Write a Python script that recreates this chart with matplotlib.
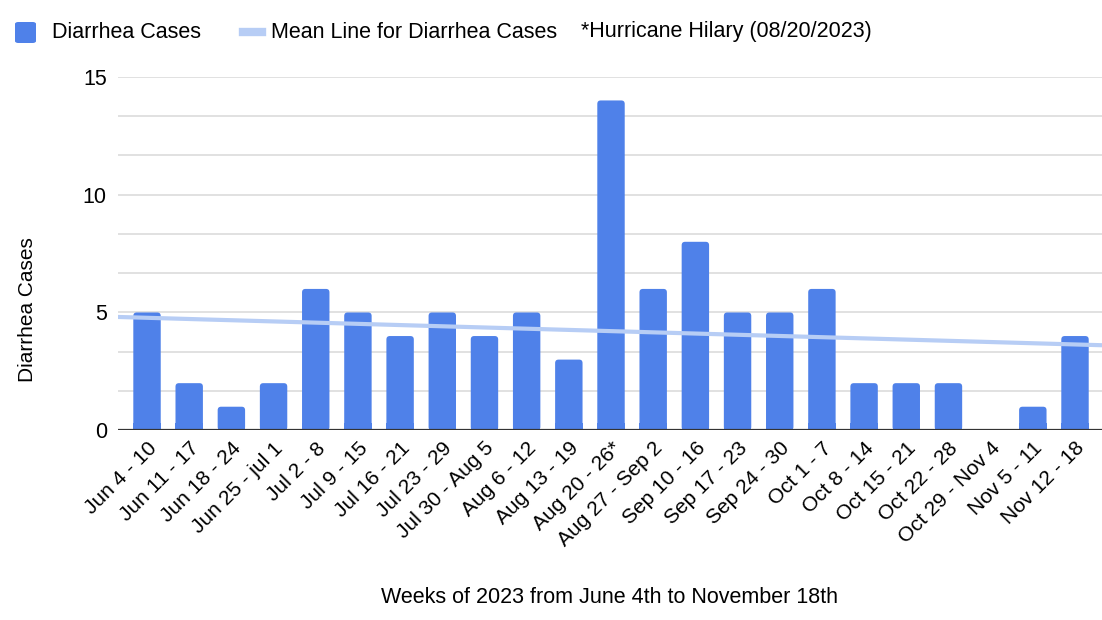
import numpy as np
import matplotlib.pyplot as plt
from matplotlib.patches import FancyBboxPatch
from matplotlib.lines import Line2D

plt.rcParams['font.family'] = ['Liberation Sans', 'DejaVu Sans']

# data
weeks = ["Jun 4 - 10", "Jun 11 - 17", "Jun 18 - 24", "Jun 25 - jul 1", "Jul 2 - 8",
         "Jul 9 - 15", "Jul 16 - 21", "Jul 23 - 29", "Jul 30 - Aug 5", "Aug 6 - 12",
         "Aug 13 - 19", "Aug 20 - 26*", "Aug 27 - Sep 2", "Sep 10 - 16", "Sep 17 - 23",
         "Sep 24 - 30", "Oct 1 - 7", "Oct 8 - 14", "Oct 15 - 21", "Oct 22 - 28",
         "Oct 29 - Nov 4", "Nov 5 - 11", "Nov 12 - 18"]
cases = [5, 2, 1, 2, 6, 5, 4, 5, 4, 5, 3, 14, 6, 8, 5, 5, 6, 2, 2, 2, 0, 1, 4]
# mean (trend) line, value at the left and right edge of the plot
mean_line = [4.81, 3.61]
y_ticks = [0, 5, 10, 15]

bar_color = "#4f81e9"
line_color = "#b7cdf5"

fig = plt.figure(figsize=(11.02, 6.2), dpi=100)
ax = fig.add_axes([0.107, 0.306, 0.893, 0.570])

x = np.arange(len(cases))
xlim = (-0.69, len(cases) - 1 + 0.64)
ax.set_xlim(*xlim)
ax.set_ylim(0, 15)

# bars with slightly rounded corners
bw = 0.65
for xi, v in zip(x, cases):
    if v <= 0:
        continue
    p = FancyBboxPatch((xi - bw / 2, 0), bw, v,
                       boxstyle="round,pad=0,rounding_size=0.08",
                       mutation_aspect=1 / 0.55,
                       facecolor=bar_color, edgecolor="none", zorder=3)
    ax.add_patch(p)
    # square off the bottom
    ax.bar(xi, min(v, 0.3), width=bw, color=bar_color, zorder=3)

ax.plot(xlim, mean_line, color=line_color, lw=3, zorder=4, solid_capstyle="butt")

# gridlines
ax.set_yticks(y_ticks)
ax.set_yticks(np.arange(0, 15.01, 5 / 3), minor=True)
ax.grid(axis="y", which="both", color="#dcdcdc", lw=1.2, zorder=0)
ax.axhline(0, color="#333333", lw=1.6, zorder=5)
ax.tick_params(axis="y", which="both", length=0, labelsize=15.5, pad=8)
ax.tick_params(axis="x", length=0, labelsize=15, pad=6)

ax.set_xticks(x)
ax.set_xticklabels(weeks, rotation=45, ha="right", rotation_mode="anchor")

for s in ax.spines.values():
    s.set_visible(False)

# axis titles
fig.text(0.025, 0.50, "Diarrhea Cases", rotation=90, ha="center", va="center", fontsize=15)
fig.text(0.553, 0.037, "Weeks of 2023 from June 4th to November 18th",
         ha="center", va="center", fontsize=15.5)

# legend across the top
fig.patches.append(FancyBboxPatch((15 / 1102, 1 - 43 / 620), 21 / 1102, 21 / 620,
                                  boxstyle="round,pad=0,rounding_size=0.003",
                                  transform=fig.transFigure, facecolor=bar_color,
                                  edgecolor="none"))
fig.text(52 / 1102, 1 - 32 / 620, "Diarrhea Cases", va="center", fontsize=15.5)
fig.lines.append(Line2D([243 / 1102, 262 / 1102], [1 - 32 / 620, 1 - 32 / 620],
                        transform=fig.transFigure, color=line_color, lw=6))
fig.text(271 / 1102, 1 - 32 / 620, "Mean Line for Diarrhea Cases", va="center", fontsize=15.5)
fig.text(581 / 1102, 1 - 32 / 620, "*Hurricane Hilary (08/20/2023)", va="center", fontsize=15.5)

fig.savefig("out.png", dpi=100)
